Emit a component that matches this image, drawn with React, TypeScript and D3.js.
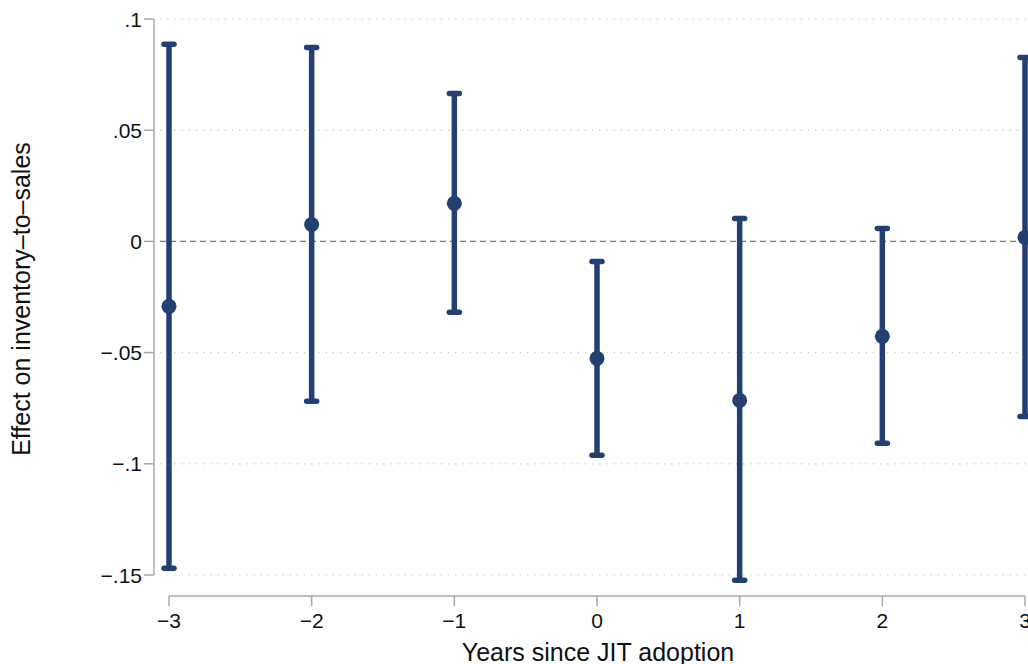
import React from "react";
import * as d3 from "d3";

const years = [-3, -2, -1, 0, 1, 2, 3];
const estimates = [-0.0292, 0.0076, 0.0171, -0.0526, -0.0715, -0.0427, 0.0018];
const upper = [0.0886, 0.0872, 0.0665, -0.009, 0.0103, 0.0058, 0.0827];
const lower = [-0.147, -0.0719, -0.0319, -0.0962, -0.1524, -0.0908, -0.0787];
const yTicks = [0.1, 0.05, 0, -0.05, -0.1, -0.15];
const yTickLabels = [".1", ".05", "0", "\u2212.05", "\u2212.1", "\u2212.15"];
const xTickLabels = ["\u22123", "\u22122", "\u22121", "0", "1", "2", "3"];

const W = 1028;
const H = 664;
const NAVY = "#243f72";
const FONT = "'Liberation Sans', Arial, Helvetica, sans-serif";

export default function App() {
  const x = d3.scaleLinear().domain([-3, 3]).range([169, 1025]);
  const y = d3.scaleLinear().domain([-0.15, 0.1]).range([575, 19]);
  const axisX = 154;
  const axisY = 596;

  return (
    <svg width={W} height={H} style={{ position: "absolute", left: 0, top: 0, background: "#fff" }}>
      {yTicks.map((t) =>
        t === 0 ? null : (
          <line key={"g" + t} x1={160} x2={W} y1={y(t)} y2={y(t)} stroke="#c8c8c8" strokeWidth={1.2} strokeDasharray="1.2 6" />
        )
      )}
      <line x1={160} x2={W} y1={y(0)} y2={y(0)} stroke="#777" strokeWidth={1.2} strokeDasharray="6 4" />
      <line x1={axisX} x2={axisX} y1={y(0.1)} y2={y(-0.15)} stroke="#a8a8a8" strokeWidth={1.5} />
      {yTicks.map((t, i) => (
        <g key={"yt" + t}>
          <line x1={axisX - 10} x2={axisX} y1={y(t)} y2={y(t)} stroke="#a8a8a8" strokeWidth={1.5} />
          <text x={axisX - 12} y={y(t)} dy="0.36em" textAnchor="end" fontFamily={FONT} fontSize={21} fill="#111">
            {yTickLabels[i]}
          </text>
        </g>
      ))}
      <line x1={x(-3)} x2={x(3)} y1={axisY} y2={axisY} stroke="#a8a8a8" strokeWidth={1.5} />
      {years.map((v, i) => (
        <g key={"xt" + v}>
          <line x1={x(v)} x2={x(v)} y1={axisY} y2={axisY + 10} stroke="#a8a8a8" strokeWidth={1.5} />
          <text x={x(v)} y={axisY + 32} textAnchor="middle" fontFamily={FONT} fontSize={21} fill="#111">
            {xTickLabels[i]}
          </text>
        </g>
      ))}
      <text x={598} y={661} textAnchor="middle" fontFamily={FONT} fontSize={25} fill="#111">
        Years since JIT adoption
      </text>
      <text transform={`translate(30,${299}) rotate(-90)`} textAnchor="middle" fontFamily={FONT} fontSize={25} fill="#111">
        Effect on inventory{"\u2013"}to{"\u2013"}sales
      </text>
      {years.map((v, i) => (
        <g key={"e" + v}>
          <line x1={x(v)} x2={x(v)} y1={y(upper[i])} y2={y(lower[i])} stroke={NAVY} strokeWidth={5.5} />
          <line x1={x(v) - 5} x2={x(v) + 5} y1={y(upper[i])} y2={y(upper[i])} stroke={NAVY} strokeWidth={5.5} strokeLinecap="round" />
          <line x1={x(v) - 5} x2={x(v) + 5} y1={y(lower[i])} y2={y(lower[i])} stroke={NAVY} strokeWidth={5.5} strokeLinecap="round" />
          <circle cx={x(v)} cy={y(estimates[i])} r={7.5} fill={NAVY} />
        </g>
      ))}
    </svg>
  );
}
